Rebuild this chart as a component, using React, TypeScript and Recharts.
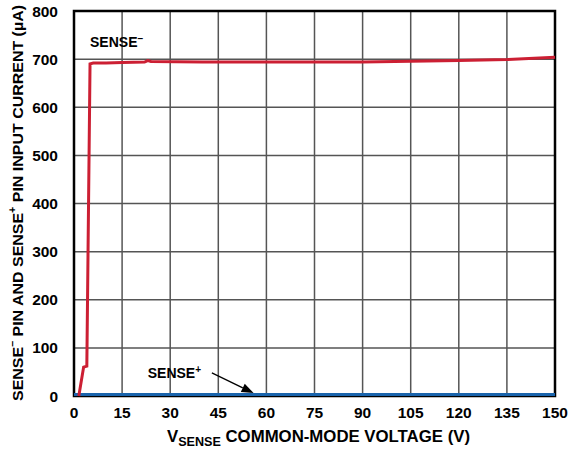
import { LineChart, Line, XAxis, YAxis, CartesianGrid, ReferenceArea, ReferenceDot, ReferenceLine, Label } from 'recharts';

const xTicks = [0, 15, 30, 45, 60, 75, 90, 105, 120, 135, 150];
const yTicks = [0, 100, 200, 300, 400, 500, 600, 700, 800];

const senseMinusV = [1.5, 3, 4, 5, 6, 10, 15, 22, 23, 24, 40, 60, 75, 90, 100, 110, 120, 135, 150];
const senseMinusI = [0, 60, 62, 690, 692, 692, 693, 694, 697, 695, 694, 694, 694, 694, 695, 696, 697, 699, 704];

const sensePlusV = [0, 150];
const sensePlusI = [3, 3];

const minusData = senseMinusV.map((v, i) => ({ v, i: senseMinusI[i] }));
const plusData = sensePlusV.map((v, i) => ({ v, i: sensePlusI[i] }));

const font = '"Liberation Sans", Arial, sans-serif';

const TextMark = ({ cx, cy, label, sup }: any) => (
  <text x={cx} y={cy} fontFamily={font} fontWeight="bold" fontSize={14} fill="#000">
    {label}
    <tspan fontSize={10} dy={-5}>{sup}</tspan>
  </text>
);

const Arrow = ({ x1, y1, x2, y2 }: any) => {
  const ang = Math.atan2(y2 - y1, x2 - x1);
  const len = 12;
  const w = 4.5;
  const bx = x2 - len * Math.cos(ang);
  const by = y2 - len * Math.sin(ang);
  const px = -Math.sin(ang) * w;
  const py = Math.cos(ang) * w;
  return (
    <g>
      <line x1={x1} y1={y1} x2={bx} y2={by} stroke="#000" strokeWidth={1.3} />
      <polygon points={`${x2},${y2} ${bx + px},${by + py} ${bx - px},${by - py}`} fill="#000" />
    </g>
  );
};

const YTitle = () => {
  const cx = 17;
  const cy = 203;
  return (
    <text x={cx} y={cy} transform={`rotate(-90 ${cx} ${cy})`} textAnchor="middle" fontFamily={font} fontWeight="bold" fontSize={15} fill="#000" dominantBaseline="central" textLength={396} lengthAdjust="spacingAndGlyphs">
      SENSE<tspan fontSize={10} dy={-5}>–</tspan>
      <tspan dy={5}> PIN AND SENSE</tspan>
      <tspan fontSize={10} dy={-5}>+</tspan>
      <tspan dy={5}> PIN INPUT CURRENT (µA)</tspan>
    </text>
  );
};

const XTitle = () => (
  <text x={167} y={442} fontFamily={font} fontWeight="bold" fontSize={16} fill="#000" textLength={303} lengthAdjust="spacingAndGlyphs">
    V<tspan fontSize={12} dy={4}>SENSE</tspan>
    <tspan dy={-4}> COMMON-MODE VOLTAGE (V)</tspan>
  </text>
);

export default function App() {
  return (
    <div style={{ position: 'absolute', left: 0, top: 0, background: '#fff' }}>
      <LineChart width={569} height={455} margin={{ top: 11, right: 14, bottom: 0, left: 0 }}>
        <CartesianGrid stroke="#555" strokeWidth={1.5} />
        <XAxis
          dataKey="v"
          type="number"
          domain={[0, 150]}
          ticks={xTicks}
          tickLine={false}
          axisLine={false}
          height={59}
          tick={{ fontFamily: font, fontWeight: 'bold', fontSize: 15.5, fill: '#000' }}
          tickMargin={5}
          interval={0}
        >
          <Label content={<XTitle />} />
        </XAxis>
        <YAxis
          type="number"
          domain={[0, 800]}
          ticks={yTicks}
          tickLine={false}
          axisLine={false}
          width={74}
          tick={{ fontFamily: font, fontWeight: 'bold', fontSize: 15.5, fill: '#000' }}
          tickMargin={10}
          interval={0}
        >
          <Label content={<YTitle />} />
        </YAxis>
        <Line data={plusData} dataKey="i" type="linear" stroke="#1a64ac" strokeWidth={3} dot={false} isAnimationActive={false} />
        <Line data={minusData} dataKey="i" type="linear" stroke="#cc1f33" strokeWidth={3} dot={false} isAnimationActive={false} />
        <ReferenceArea x1={0} x2={150} y1={0} y2={800} fill="none" stroke="#000" strokeWidth={2.5} fillOpacity={0} />
        <ReferenceDot x={5} y={726} r={0} shape={<TextMark label="SENSE" sup="–" />} />
        <ReferenceDot x={23} y={37} r={0} shape={<TextMark label="SENSE" sup="+" />} />
        <ReferenceLine segment={[{ x: 43, y: 48 }, { x: 56, y: 6 }]} shape={<Arrow />} />
      </LineChart>
    </div>
  );
}
